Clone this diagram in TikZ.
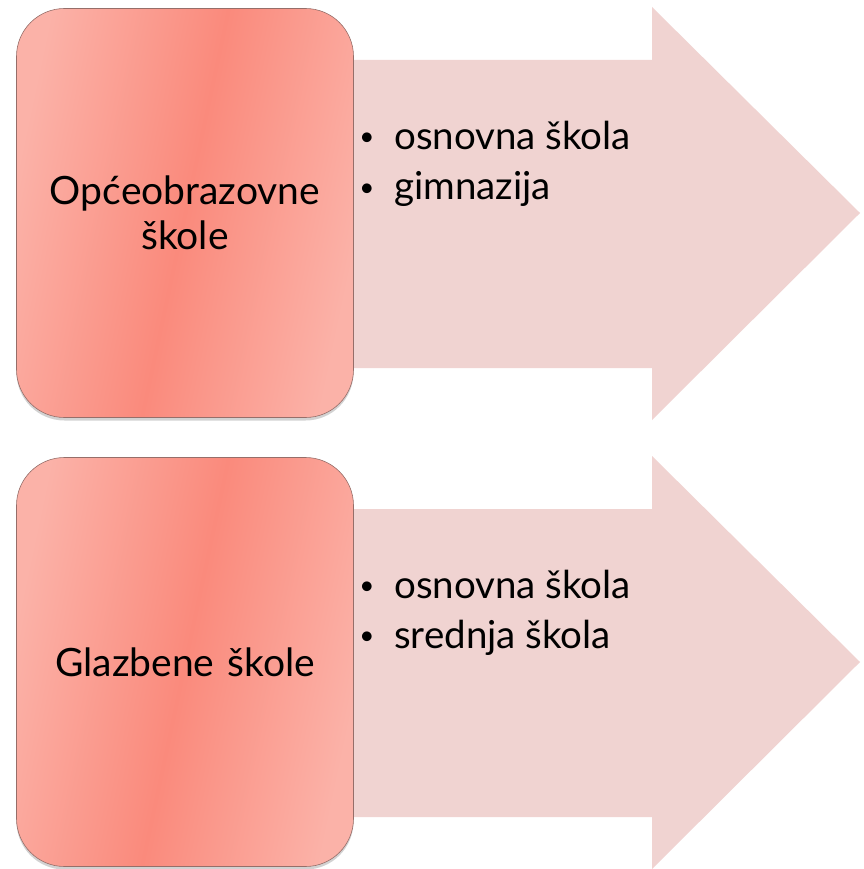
\documentclass[tikz,border=0pt]{standalone}
\usepackage{fontspec}
\setmainfont{Lato}
\usetikzlibrary{shadows}
\definecolor{boxmid}{RGB}{250,138,124}
\definecolor{boxside}{RGB}{251,178,168}
\definecolor{boxline}{RGB}{150,110,105}
\definecolor{arrowfill}{RGB}{240,211,209}
\begin{document}
\begin{tikzpicture}[x=1pt,y=-1pt,
  catbox/.style={draw=boxline, line width=0.6pt, rounded corners=48pt,
    minimum width=337pt, minimum height=409pt, inner sep=0pt,
    left color=boxside, right color=boxside, middle color=boxmid, shading angle=78,
    drop shadow={opacity=0.35, shadow xshift=0pt, shadow yshift=-3pt},
    align=center, font=\fontsize{39}{45}\selectfont, text width=320pt},
  bigarrow/.style={fill=arrowfill, draw=none},
  item/.style={anchor=base west, inner sep=0pt, font=\fontsize{38.5}{45}\selectfont},
  dot/.style={anchor=base, inner sep=0pt, font=\fontsize{26}{30}\selectfont}]
\useasboundingbox (0,0) rectangle (863,869);
\fill[white] (0,0) rectangle (863,869);
% arrows
\path[bigarrow] (180,60) -- (652,60) -- (652,7) -- (860,213) -- (652,420) -- (652,368) -- (180,368) -- cycle;
\path[bigarrow] (180,509) -- (652,509) -- (652,456) -- (860,662) -- (652,869) -- (652,817) -- (180,817) -- cycle;
% boxes
\node[catbox] (b1) at (185,213) {Općeobrazovne\\škole};
\node[catbox] (b2) at (185,662) {Glazbene škole};
% bullet lists
\node[dot] (d1) at (367,146) {•};
\node[item] (t1) at (394,150) {osnovna škola};
\node[dot] (d2) at (367,196) {•};
\node[item] (t2) at (394,200) {gimnazija};
\node[dot] (d3) at (367,594) {•};
\node[item] (t3) at (394,598) {osnovna škola};
\node[dot] (d4) at (367,644) {•};
\node[item] (t4) at (394,648) {srednja škola};
\end{tikzpicture}
\end{document}
